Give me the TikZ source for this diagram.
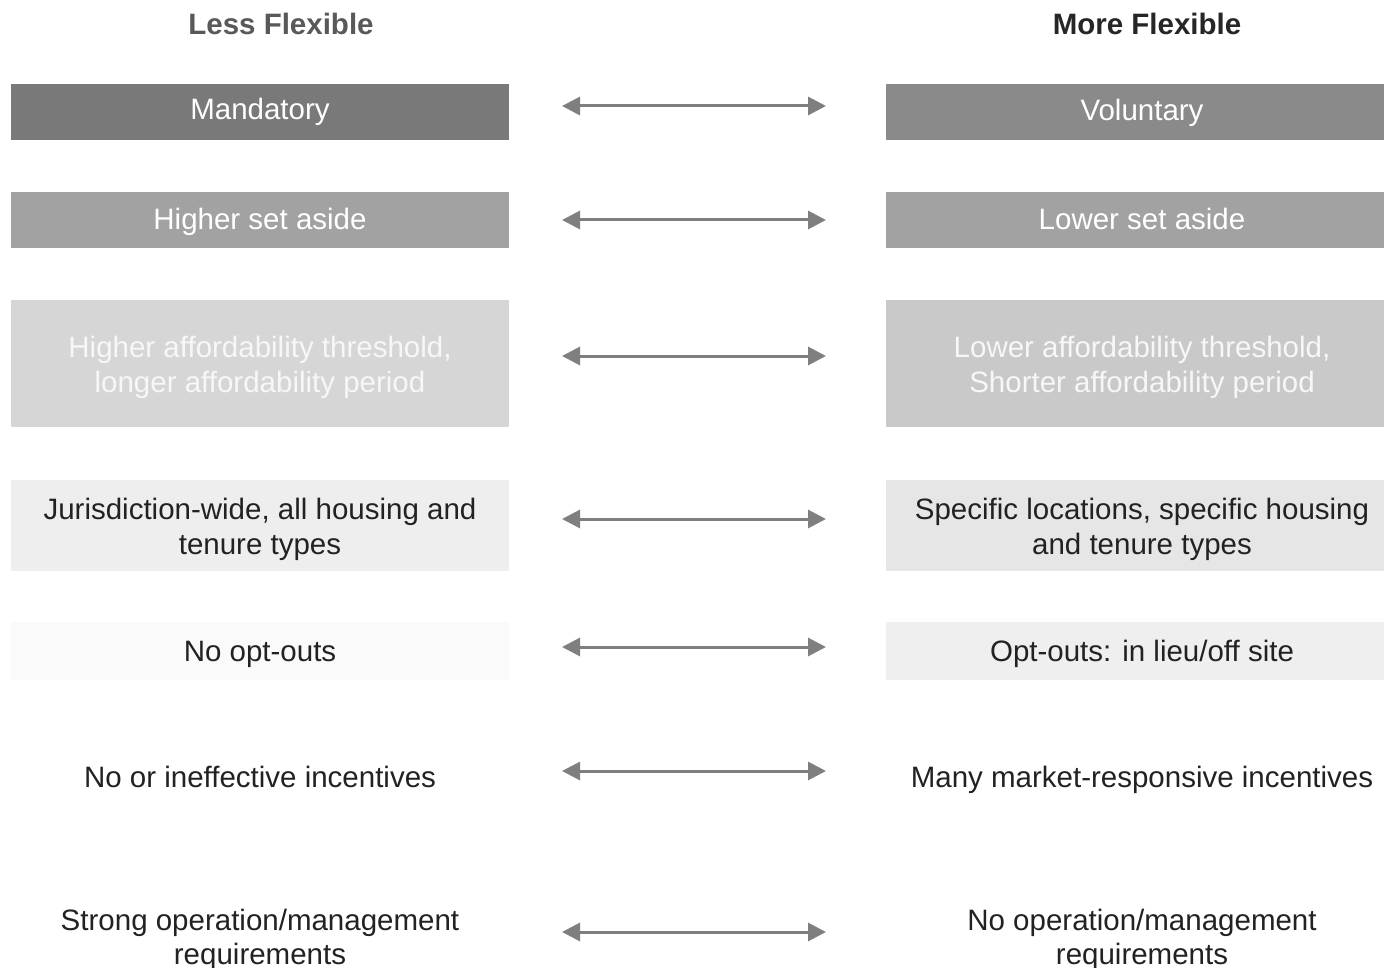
\documentclass[tikz,border=0pt]{standalone}
\usepackage{fontspec}
\setmainfont{Liberation Sans}
\usetikzlibrary{arrows.meta}
\definecolor{ink}{HTML}{222222}
\definecolor{arrowgray}{HTML}{7F7F7F}
\definecolor{fA}{HTML}{797979}
\definecolor{fAr}{HTML}{8A8A8A}
\definecolor{fB}{HTML}{A2A2A2}
\definecolor{fC}{HTML}{D6D6D6}
\definecolor{fCr}{HTML}{C9C9C9}
\definecolor{fD}{HTML}{EEEEEE}
\definecolor{fDr}{HTML}{E6E6E6}
\definecolor{fE}{HTML}{FAFAFA}
\definecolor{fEr}{HTML}{EFEFEF}
\tikzset{
  x=1pt, y=-1pt,
  lbox/.style={minimum width=498pt, inner sep=0pt, draw=none},
  rbox/.style={lbox, minimum width=512pt},
  txt/.style={anchor=base, inner sep=0pt, font=\fontsize{29.5}{35}\selectfont, text=ink},
  wtxt/.style={txt, text=white},
  title/.style={anchor=base, inner sep=0pt, font=\fontsize{29.5}{35}\selectfont\bfseries},
  twoway/.style={draw=arrowgray, line width=3pt,
    {Triangle[length=18pt,width=18pt]}-{Triangle[length=18pt,width=18pt]}},
}
\begin{document}
\begin{tikzpicture}
\useasboundingbox[fill=white] (0,0) rectangle (1384,968);

% column headings
\node[title, text=black!65] (hl) at (281,35) {Less Flexible};
\node[title, text=black!85] (hr) at (1147,35) {More Flexible};

% shaded bands, left column
\node[lbox, fill=fA, minimum height=56pt]  (l1) at (260,112) {};
\node[lbox, fill=fB, minimum height=56pt]  (l2) at (260,220) {};
\node[lbox, fill=fC, minimum height=127pt] (l3) at (260,363.5) {};
\node[lbox, fill=fD, minimum height=91pt]  (l4) at (260,525.5) {};
\node[lbox, fill=fE, minimum height=58pt]  (l5) at (260,651) {};

% shaded bands, right column
\node[rbox, fill=fAr, minimum height=56pt]  (r1) at (1142,112) {};
\node[rbox, fill=fB,  minimum height=56pt]  (r2) at (1142,220) {};
\node[rbox, fill=fCr, minimum height=127pt] (r3) at (1142,363.5) {};
\node[rbox, fill=fDr, minimum height=91pt]  (r4) at (1142,525.5) {};
\node[rbox, fill=fEr, minimum height=58pt]  (r5) at (1142,651) {};

% left column texts (placed by baseline)
\node[wtxt] (lt1) at (260,120) {Mandatory};
\node[wtxt] (lt2) at (260,230) {Higher set aside};
\node[wtxt, text=white!97!black] (lt3a) at (260,357) {Higher affordability threshold,};
\node[wtxt, text=white!97!black] (lt3b) at (260,392) {longer affordability period};
\node[txt] (lt4a) at (260,519) {Jurisdiction-wide, all housing and};
\node[txt] (lt4b) at (260,554) {tenure types};
\node[txt] (lt5) at (260,661) {No opt-outs};
\node[txt] (lt6) at (260,787) {No or ineffective incentives};
\node[txt] (lt7a) at (260,930) {Strong operation/management};
\node[txt] (lt7b) at (260,964) {requirements};

% right column texts
\node[wtxt] (rt1) at (1142,121) {Voluntary};
\node[wtxt] (rt2) at (1142,230) {Lower set aside};
\node[wtxt, text=white!97!black] (rt3a) at (1142,357) {Lower affordability threshold,};
\node[wtxt, text=white!97!black] (rt3b) at (1142,392) {Shorter affordability period};
\node[txt] (rt4a) at (1142,519) {Specific locations, specific housing};
\node[txt] (rt4b) at (1142,554) {and tenure types};
\node[txt] (rt5) at (1142,661) {Opt-outs: in lieu/off site};
\node[txt] (rt6) at (1142,787) {Many market-responsive incentives};
\node[txt] (rt7a) at (1142,930) {No operation/management};
\node[txt] (rt7b) at (1142,964) {requirements};

% two-way arrows between the columns
\foreach \i/\y in {1/106,2/220,3/356,4/519,5/647,6/771,7/932}{
  \coordinate (a\i) at (562,\y);
  \coordinate (b\i) at (826,\y);
  \draw[twoway] (a\i) -- (b\i);
}
\end{tikzpicture}
\end{document}
